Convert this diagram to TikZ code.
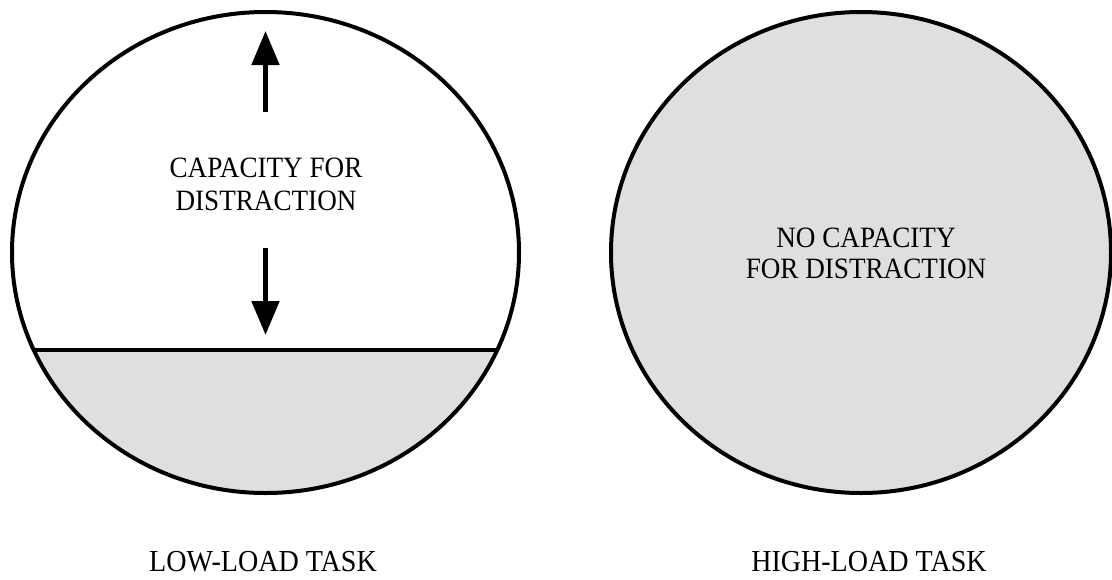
\documentclass[tikz,border=0pt]{standalone}
\usepackage{fontspec}
\setmainfont[FakeStretch=0.92]{Liberation Serif}
\usetikzlibrary{arrows.meta}
\definecolor{loadgray}{HTML}{DFDFDF}
\begin{document}
\begin{tikzpicture}[x=1pt,y=-1pt,
  outline/.style={line width=4pt, draw=black},
  arr/.style={line width=5pt, -{Triangle[length=34pt,width=27pt]}},
  lbl/.style={font=\fontsize{29.5}{33}\selectfont, inner sep=0pt, anchor=base},
  tasklbl/.style={font=\fontsize{30.5}{34}\selectfont, inner sep=0pt, anchor=base}]
\useasboundingbox (0,0) rectangle (1112,579);
% left circle
\coordinate (lc) at (265.5,252.5);
\begin{scope}
  \clip (lc) ellipse [x radius=253.5, y radius=240.5];
  \fill[loadgray] (0,350) rectangle (540,520);
\end{scope}
\coordinate (hl) at (34,350);
\coordinate (hr) at (497,350);
\draw[line width=4pt] (hl) -- (hr);
\draw[outline] (lc) ellipse [x radius=253.5, y radius=240.5];
% arrows
\coordinate (us) at (265.5,112);
\coordinate (ut) at (265.5,31);
\coordinate (ds) at (265.5,248);
\coordinate (dt) at (265.5,335);
\draw[arr] (us) -- (ut);
\draw[arr] (ds) -- (dt);
\node[lbl] (t1) at (266,177) {CAPACITY FOR};
\node[lbl] (t2) at (266,210) {DISTRACTION};
% right circle
\coordinate (rc) at (861,252.5);
\draw[outline, fill=loadgray] (rc) ellipse [x radius=250, y radius=240.5];
\node[lbl] (t3) at (866,247) {NO CAPACITY};
\node[lbl] (t4) at (866,278) {FOR DISTRACTION};
% bottom labels
\node[tasklbl] (b1) at (263,571) {LOW-LOAD TASK};
\node[tasklbl] (b2) at (869,571) {HIGH-LOAD TASK};
\end{tikzpicture}
\end{document}
